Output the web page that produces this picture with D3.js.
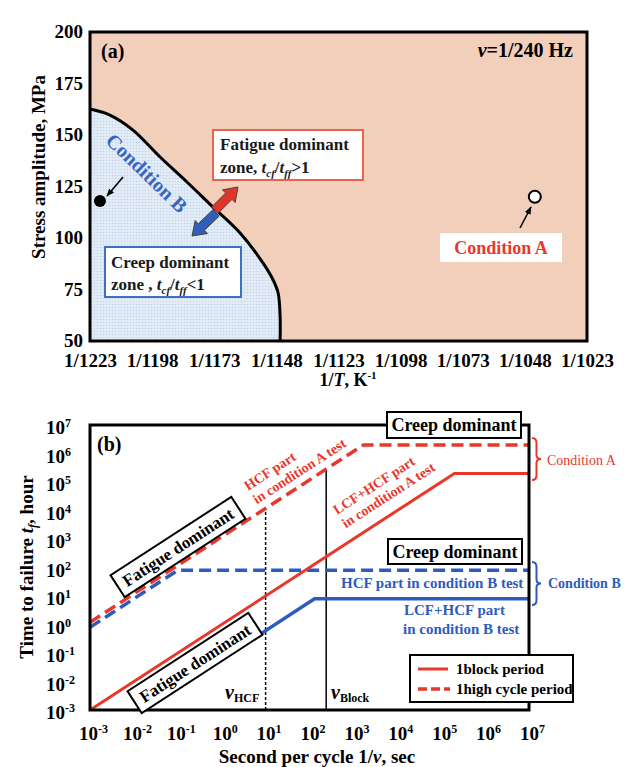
<!DOCTYPE html>
<html>
<head>
<meta charset="utf-8">
<script src="https://cdn.jsdelivr.net/npm/d3@7"></script>
<style>
  body { margin: 0; background: #fff; }
  svg { display: block; font-family: "Liberation Serif", "Times New Roman", serif; font-weight: bold; }
</style>
</head>
<body>
<svg id="fig" width="636" height="767"></svg>
<script>
// ---------- Panel (a): stress amplitude vs. 1/T ----------
const tempTicks = [1223, 1198, 1173, 1148, 1123, 1098, 1073, 1048, 1023];
const stressTicks = [50, 75, 100, 125, 150, 175, 200];
// creep / fatigue boundary (temperature in K, stress in MPa)
const boundaryTemp   = [1223, 1215, 1205.7, 1194.8, 1184, 1173.5, 1162.6, 1153.4, 1149.3, 1147.3, 1146.5, 1146.5];
const boundaryStress = [162.6, 159.7, 152.4, 139.3, 127.2, 115.0, 102.4, 87.9, 79.6, 73.3, 62, 50];
const condATemp = [1044], condAStress = [120];
const condBTemp = [1219], condBStress = [118];

// ---------- Panel (b): time to failure vs. seconds per cycle ----------
const periodExps = [-3, -2, -1, 0, 1, 2, 3, 4, 5, 6, 7];
const timeExps   = [-3, -2, -1, 0, 1, 2, 3, 4, 5, 6, 7];
const blockAPeriod = [1e-3, 2e5, 1e7];
const blockATime   = [1e-3, 2e5, 2e5];
const hcfAPeriod   = [1e-3, 1.7e3, 1e7];
const hcfATime     = [1.2, 2e6, 2e6];
const hcfBPeriod   = [1e-3, 0.1, 1e7];
const hcfBTime     = [0.8, 80, 80];
const blockBPeriod = [0.017, 130, 1e7];
const blockBTime   = [1e-3, 8, 8];
const nuHCFPeriod = 10;
const nuBlockPeriod = 240;

const RED = "#e8372b", BLUE = "#2c5cbd", PEACH = "#f2cfba";
const TICK = 19, SUP = 12;

const svg = d3.select("#fig");
const defs = svg.append("defs");

// fine dotted texture of the creep zone
const pat = defs.append("pattern").attr("id", "dots")
  .attr("width", 3).attr("height", 3).attr("patternUnits", "userSpaceOnUse");
pat.append("rect").attr("width", 3).attr("height", 3).attr("fill", "#e3ecf7");
pat.append("circle").attr("cx", 1.5).attr("cy", 1.5).attr("r", 0.8).attr("fill", "#c6d6eb");

defs.append("marker").attr("id", "head").attr("viewBox", "0 0 10 10")
  .attr("refX", 9).attr("refY", 5).attr("markerWidth", 5).attr("markerHeight", 5)
  .attr("orient", "auto")
  .append("path").attr("d", "M0,1L10,5L0,9z").attr("fill", "#000");

// ---------- helpers ----------
function blockArrow(g, x0, y0, x1, y1, fill) {
  const dx = x1 - x0, dy = y1 - y0, L = Math.hypot(dx, dy);
  const ux = dx / L, uy = dy / L, px = -uy, py = ux;
  const bw = 4.5, hw = 9, hl = 13;
  const bx = x1 - ux * hl, by = y1 - uy * hl;
  const pts = [
    [x0 + px * bw, y0 + py * bw], [bx + px * bw, by + py * bw], [bx + px * hw, by + py * hw],
    [x1, y1],
    [bx - px * hw, by - py * hw], [bx - px * bw, by - py * bw], [x0 - px * bw, y0 - py * bw]
  ];
  g.append("polygon").attr("points", pts.map(p => p.join(",")).join(" "))
    .attr("fill", fill).attr("stroke", "#444").attr("stroke-width", 1);
}

function brace(g, x, y0, y1, color) {
  const m = (y0 + y1) / 2, w = 9, h = w / 2;
  const d = `M${x},${y0} Q${x + h},${y0} ${x + h},${y0 + 5} L${x + h},${m - 4} Q${x + h},${m} ${x + w},${m}` +
            ` Q${x + h},${m} ${x + h},${m + 4} L${x + h},${y1 - 5} Q${x + h},${y1} ${x},${y1}`;
  g.append("path").attr("d", d).attr("fill", "none").attr("stroke", color).attr("stroke-width", 2);
}

function richText(text, parts) {
  // parts: [string, italic?, baseline shift, font size]
  parts.forEach(([s, it, shift, size]) => {
    const t = text.append("tspan").text(s);
    if (it) t.attr("font-style", "italic");
    if (shift) t.attr("dy", shift);
    if (size) t.attr("font-size", size);
  });
}

function tiltedBox(g, cx, cy, angle, w, h, label) {
  const t = g.append("g").attr("transform", `translate(${cx},${cy}) rotate(${angle})`);
  t.append("rect").attr("x", -w / 2).attr("y", -h / 2).attr("width", w).attr("height", h)
    .attr("fill", "#fff").attr("stroke", "#000").attr("stroke-width", 2);
  t.append("text").attr("text-anchor", "middle").attr("y", 6).attr("font-size", 17).text(label);
}

// ================= Panel (a) =================
const xA = d3.scaleLinear().domain([1223, 1023]).range([90, 587]);
const yA = d3.scaleLinear().domain([50, 200]).range([341, 32]);
const gA = svg.append("g");

gA.append("rect").attr("x", xA(1223)).attr("y", yA(200))
  .attr("width", xA(1023) - xA(1223)).attr("height", yA(50) - yA(200)).attr("fill", PEACH);

const boundaryPts = boundaryTemp.map((t, i) => [xA(t), yA(boundaryStress[i])]);
const smooth = d3.line().curve(d3.curveCatmullRom.alpha(0.5));
gA.append("path").attr("d", smooth(boundaryPts) + `L${xA(1223)},${yA(50)}Z`).attr("fill", "url(#dots)");
gA.append("path").attr("d", smooth(boundaryPts)).attr("fill", "none")
  .attr("stroke", "#000").attr("stroke-width", 3);

// zone boxes
gA.append("rect").attr("x", 213).attr("y", 130).attr("width", 150).attr("height", 50)
  .attr("fill", "#fff").attr("stroke", "#e8624f").attr("stroke-width", 2);
gA.append("text").attr("x", 220).attr("y", 150).attr("font-size", 17).attr("fill", "#1a1a1a").text("Fatigue dominant");
richText(gA.append("text").attr("x", 220).attr("y", 173).attr("font-size", 17).attr("fill", "#1a1a1a"), [
  ["zone, "], ["t", true], ["cf", true, 4, 11], ["/", false, -4], ["t", true], ["ff", true, 4, 11], [">1", false, -4]
]);

gA.append("rect").attr("x", 105).attr("y", 247).attr("width", 136).attr("height", 50)
  .attr("fill", "#fff").attr("stroke", "#3d6fc6").attr("stroke-width", 2);
gA.append("text").attr("x", 111).attr("y", 268).attr("font-size", 17).attr("fill", "#1a1a1a").text("Creep dominant");
richText(gA.append("text").attr("x", 111).attr("y", 290).attr("font-size", 17).attr("fill", "#1a1a1a"), [
  ["zone , "], ["t", true], ["cf", true, 4, 11], ["/", false, -4], ["t", true], ["ff", true, 4, 11], ["<1", false, -4]
]);

// direction arrows across the boundary
blockArrow(gA, 215, 210, 238, 187, "#e3342a");
blockArrow(gA, 216, 213, 192, 236, "#2f5fb8");

// Condition B label along the boundary
gA.append("text").attr("transform", "translate(142,178) rotate(44)")
  .attr("text-anchor", "middle").attr("font-size", 20).attr("fill", "#3566c4").text("Condition B");

// test conditions
gA.append("line").attr("x1", 123).attr("y1", 177).attr("x2", 107).attr("y2", 196)
  .attr("stroke", "#000").attr("stroke-width", 1.6).attr("marker-end", "url(#head)");
gA.selectAll(".condB").data(condBTemp).join("circle")
  .attr("cx", d => xA(d)).attr("cy", (d, i) => yA(condBStress[i])).attr("r", 6).attr("fill", "#000");

gA.append("rect").attr("x", 440).attr("y", 233).attr("width", 122).attr("height", 29).attr("fill", "#fff");
gA.append("text").attr("x", 501).attr("y", 254).attr("text-anchor", "middle")
  .attr("font-size", 18).attr("fill", RED).text("Condition A");
gA.append("line").attr("x1", 520).attr("y1", 228).attr("x2", 531).attr("y2", 207)
  .attr("stroke", "#000").attr("stroke-width", 1.6).attr("marker-end", "url(#head)");
gA.selectAll(".condA").data(condATemp).join("circle")
  .attr("cx", d => xA(d)).attr("cy", (d, i) => yA(condAStress[i])).attr("r", 6)
  .attr("fill", "#fff").attr("stroke", "#000").attr("stroke-width", 2);

// frame
gA.append("rect").attr("x", 90).attr("y", 32).attr("width", 497).attr("height", 309)
  .attr("fill", "none").attr("stroke", "#000").attr("stroke-width", 3);

// axes
const yAxisA = gA.append("g").attr("transform", "translate(90,0)")
  .call(d3.axisLeft(yA).tickValues(stressTicks).tickSize(0).tickPadding(7));
yAxisA.select(".domain").remove();
yAxisA.attr("font-family", null).attr("font-size", null);
yAxisA.selectAll("text").attr("font-size", TICK).attr("dy", "0.3em");

const xAxisA = gA.append("g").attr("transform", "translate(0,341)")
  .call(d3.axisBottom(xA).tickValues(tempTicks).tickFormat(d => "1/" + d).tickSize(0).tickPadding(13));
xAxisA.select(".domain").remove();
xAxisA.attr("font-family", null).attr("font-size", null);
xAxisA.selectAll("text").attr("font-size", TICK);

gA.append("text").attr("x", 101).attr("y", 58).attr("font-size", 20).text("(a)");
richText(gA.append("text").attr("x", 573).attr("y", 57).attr("text-anchor", "end").attr("font-size", 20), [
  ["ν", true], ["=1/240 Hz"]
]);

gA.append("text").attr("transform", "translate(45,167) rotate(-90)").attr("text-anchor", "middle")
  .attr("font-size", 19).text("Stress amplitude, MPa");
richText(gA.append("text").attr("x", 348).attr("y", 386).attr("text-anchor", "middle").attr("font-size", 18), [
  ["1/"], ["T", true], [", K"], ["-1", false, -7, 11]
]);

// ================= Panel (b) =================
const xB = d3.scaleLog().domain([1e-3, 1e7]).range([90, 529]);
const yB = d3.scaleLog().domain([1e-3, 1e7]).range([710, 425]);
const gB = svg.append("g");

defs.append("clipPath").attr("id", "plotB").append("rect")
  .attr("x", 90).attr("y", 425).attr("width", 439).attr("height", 285);

const lineB = d3.line().x(d => xB(d[0])).y(d => yB(d[1]));
const zip = (a, b) => a.map((v, i) => [v, b[i]]);

// log-log interpolation along a polyline
function onCurve(px, py, p) {
  for (let i = 0; i < px.length - 1; i++) {
    if (p >= px[i] && p <= px[i + 1]) {
      const f = (Math.log10(p) - Math.log10(px[i])) / (Math.log10(px[i + 1]) - Math.log10(px[i]));
      return Math.pow(10, Math.log10(py[i]) + f * (Math.log10(py[i + 1]) - Math.log10(py[i])));
    }
  }
  return py[py.length - 1];
}

const plotB = gB.append("g").attr("clip-path", "url(#plotB)");

// characteristic periods
plotB.append("line").attr("x1", xB(nuHCFPeriod)).attr("x2", xB(nuHCFPeriod))
  .attr("y1", yB(1e-3)).attr("y2", yB(onCurve(hcfAPeriod, hcfATime, nuHCFPeriod)))
  .attr("stroke", "#000").attr("stroke-width", 1.5).attr("stroke-dasharray", "3,2");
plotB.append("line").attr("x1", xB(nuBlockPeriod)).attr("x2", xB(nuBlockPeriod))
  .attr("y1", yB(1e-3)).attr("y2", yB(onCurve(hcfAPeriod, hcfATime, nuBlockPeriod)))
  .attr("stroke", "#000").attr("stroke-width", 1.5);

plotB.append("path").attr("d", lineB(zip(hcfBPeriod, hcfBTime))).attr("fill", "none")
  .attr("stroke", BLUE).attr("stroke-width", 3.5).attr("stroke-dasharray", "12,6");
plotB.append("path").attr("d", lineB(zip(hcfAPeriod, hcfATime))).attr("fill", "none")
  .attr("stroke", RED).attr("stroke-width", 3.5).attr("stroke-dasharray", "12,6");
plotB.append("path").attr("d", lineB(zip(blockAPeriod, blockATime))).attr("fill", "none")
  .attr("stroke", RED).attr("stroke-width", 3);
plotB.append("path").attr("d", lineB(zip(blockBPeriod, blockBTime))).attr("fill", "none")
  .attr("stroke", BLUE).attr("stroke-width", 3.5);

// frame
gB.append("rect").attr("x", 90).attr("y", 425).attr("width", 439).attr("height", 285)
  .attr("fill", "none").attr("stroke", "#000").attr("stroke-width", 3);

// annotations along the curves
const hcfALabel = gB.append("text").attr("transform", "translate(248,491) rotate(-33)")
  .attr("font-size", 14).attr("fill", RED);
hcfALabel.append("tspan").attr("x", 0).attr("y", 0).text("HCF part");
hcfALabel.append("tspan").attr("x", 0).attr("y", 16).text("in condition A test");

const blockALabel = gB.append("text").attr("transform", "translate(337,515) rotate(-33)")
  .attr("font-size", 14).attr("fill", RED);
blockALabel.append("tspan").attr("x", 0).attr("y", 0).text("LCF+HCF part");
blockALabel.append("tspan").attr("x", 0).attr("y", 16).text("in condition A test");

gB.append("text").attr("x", 341).attr("y", 588).attr("font-size", 15).attr("fill", BLUE)
  .text("HCF part in condition B test");
gB.append("text").attr("x", 404).attr("y", 615).attr("font-size", 15).attr("fill", BLUE).text("LCF+HCF part");
gB.append("text").attr("x", 403).attr("y", 634).attr("font-size", 15).attr("fill", BLUE).text("in condition B test");

// regime boxes
function flatBox(x, y, w, h, label) {
  gB.append("rect").attr("x", x).attr("y", y).attr("width", w).attr("height", h)
    .attr("fill", "#fff").attr("stroke", "#000").attr("stroke-width", 2);
  gB.append("text").attr("x", x + w / 2).attr("y", y + h / 2 + 6).attr("text-anchor", "middle")
    .attr("font-size", 18).text(label);
}
flatBox(387, 412, 134, 26, "Creep dominant");
flatBox(388, 539, 134, 25, "Creep dominant");
tiltedBox(gB, 178, 547, -33, 144, 26, "Fatigue dominant");
tiltedBox(gB, 195, 663, -33, 144, 26, "Fatigue dominant");

// characteristic frequency labels
richText(gB.append("text").attr("x", 225).attr("y", 699).attr("font-size", 20), [
  ["ν", true, 0, null], ["HCF", false, 3, 12]
]);
richText(gB.append("text").attr("x", 331).attr("y", 699).attr("font-size", 20), [
  ["ν", true, 0, null], ["Block", false, 3, 12]
]);
gB.append("text").attr("x", 97).attr("y", 451).attr("font-size", 20).text("(b)");

// condition braces
brace(gB, 532, 438, 480, RED);
gB.append("text").attr("x", 547).attr("y", 465).attr("font-size", 14).attr("font-weight", "normal")
  .attr("fill", RED).text("Condition A");
brace(gB, 532, 562, 605, BLUE);
gB.append("text").attr("x", 548).attr("y", 588).attr("font-size", 14).attr("fill", BLUE).text("Condition B");

// legend
const leg = gB.append("g");
leg.append("rect").attr("x", 410).attr("y", 655).attr("width", 163).attr("height", 47)
  .attr("fill", "#fff").attr("stroke", "#000").attr("stroke-width", 2);
leg.append("line").attr("x1", 418).attr("x2", 448).attr("y1", 669).attr("y2", 669)
  .attr("stroke", RED).attr("stroke-width", 3);
leg.append("line").attr("x1", 418).attr("x2", 450).attr("y1", 689).attr("y2", 689)
  .attr("stroke", RED).attr("stroke-width", 3.5).attr("stroke-dasharray", "9,4");
leg.append("text").attr("x", 456).attr("y", 674).attr("font-size", 15).text("1block period");
leg.append("text").attr("x", 456).attr("y", 694).attr("font-size", 15).text("1high cycle period");

// axes with power-of-ten labels
function powLabel(sel, exp) {
  sel.text(null);
  sel.append("tspan").text("10");
  sel.append("tspan").attr("font-size", SUP).attr("dy", -7).text(exp < 0 ? "-" + (-exp) : String(exp));
}

const yAxisB = gB.append("g").attr("transform", "translate(90,0)")
  .call(d3.axisLeft(yB).tickValues(timeExps.map(e => Math.pow(10, e))).tickSize(0));
yAxisB.select(".domain").remove();
yAxisB.attr("font-family", null).attr("font-size", null);
yAxisB.selectAll("text").attr("x", -44).attr("text-anchor", "start").attr("dy", "0.45em")
  .attr("font-size", TICK).each(function (d) { powLabel(d3.select(this), Math.round(Math.log10(d))); });

const xAxisB = gB.append("g").attr("transform", "translate(0,710)")
  .call(d3.axisBottom(xB).tickValues(periodExps.map(e => Math.pow(10, e))).tickSize(0).tickPadding(17));
xAxisB.select(".domain").remove();
xAxisB.attr("font-family", null).attr("font-size", null);
xAxisB.selectAll("text").attr("font-size", TICK).attr("x", 3)
  .each(function (d) { powLabel(d3.select(this), Math.round(Math.log10(d))); });

richText(gB.append("text").attr("transform", "translate(33,567) rotate(-90)").attr("text-anchor", "middle")
  .attr("font-size", 19), [
  ["Time to failure "], ["t", true], ["f", true, 4, 12], [", hour", false, -4]
]);
richText(gB.append("text").attr("x", 317).attr("y", 763).attr("text-anchor", "middle").attr("font-size", 19), [
  ["Second per cycle 1/"], ["ν", true], [", sec"]
]);
</script>
</body>
</html>
